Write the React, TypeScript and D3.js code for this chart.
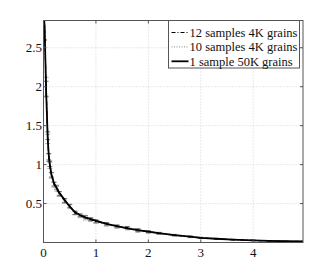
import { useEffect, useRef } from 'react'
import * as d3 from 'd3'

// sample positions (x) and mean curves
const xs = [0.02, 0.05, 0.08, 0.1, 0.12, 0.15, 0.2, 0.25, 0.3, 0.4, 0.5, 0.6, 0.7, 0.8, 0.9, 1.0, 1.2, 1.4, 1.6, 1.8, 2.0, 2.2, 2.5, 2.8, 3.0, 3.3, 3.6, 4.0, 4.3, 4.6, 4.95]
const oneSample = [2.8, 1.95, 1.35, 1.12, 1.0, 0.88, 0.76, 0.7, 0.64, 0.55, 0.46, 0.39, 0.35, 0.32, 0.3, 0.28, 0.24, 0.21, 0.18, 0.16, 0.14, 0.12, 0.095, 0.075, 0.06, 0.048, 0.038, 0.027, 0.02, 0.016, 0.013]
const twelveSamples = [2.85, 1.97, 1.37, 1.1, 1.01, 0.87, 0.75, 0.71, 0.63, 0.54, 0.47, 0.38, 0.35, 0.33, 0.3, 0.27, 0.24, 0.21, 0.19, 0.16, 0.14, 0.12, 0.096, 0.074, 0.06, 0.047, 0.037, 0.027, 0.021, 0.016, 0.013]
const tenSamples = [2.9, 2.0, 1.33, 1.09, 0.99, 0.86, 0.74, 0.69, 0.62, 0.53, 0.46, 0.38, 0.34, 0.31, 0.29, 0.27, 0.23, 0.2, 0.18, 0.15, 0.13, 0.115, 0.09, 0.072, 0.058, 0.046, 0.036, 0.026, 0.02, 0.015, 0.012]
// half-height of the error bars on the sampled series
const errTen = [0.3, 0.12, 0.06, 0.05, 0.04, 0.035, 0.03, 0.03, 0.03, 0.03, 0.025, 0.025, 0.02, 0.02, 0.02, 0.02, 0.02, 0.018, 0.018, 0.02, 0.015, 0.012, 0.01, 0.01, 0.008, 0.006, 0.005, 0.004, 0.003, 0.003, 0.002]
const errTwelve = [0.25, 0.1, 0.05, 0.04, 0.035, 0.03, 0.025, 0.025, 0.025, 0.025, 0.02, 0.02, 0.018, 0.018, 0.018, 0.018, 0.016, 0.016, 0.015, 0.018, 0.012, 0.01, 0.008, 0.008, 0.006, 0.005, 0.004, 0.003, 0.003, 0.002, 0.002]

const xTicks = [0, 1, 2, 3, 4]
const yTicks = [0.5, 1, 1.5, 2, 2.5]
const legendLabels = ['12 samples 4K grains', '10 samples 4K grains', '1 sample 50K grains']

export default function App() {
  const ref = useRef<SVGSVGElement>(null)

  useEffect(() => {
    const width = 334
    const height = 273
    const margin = { top: 20.5, right: 31, bottom: 30.5, left: 43.5 }
    const w = width - margin.left - margin.right
    const h = height - margin.top - margin.bottom
    const svg = d3.select(ref.current)
    svg.selectAll('*').remove()

    const x = d3.scaleLinear().domain([0, 4.95]).range([0, w])
    const y = d3.scaleLinear().domain([0, 2.85]).range([h, 0])
    const font = "'Liberation Serif', 'DejaVu Serif', serif"

    const root = svg.append('g').attr('transform', `translate(${margin.left},${margin.top})`)
    root.append('rect').attr('width', w).attr('height', h).attr('fill', '#fff')

    svg.append('defs').append('clipPath').attr('id', 'plot-clip')
      .append('rect').attr('width', w).attr('height', h)

    // grid
    const grid = root.append('g').attr('stroke', '#c8c8c8').attr('stroke-dasharray', '1,2').attr('stroke-width', 0.8)
    xTicks.filter(t => t > 0).forEach(t => {
      grid.append('line').attr('x1', x(t)).attr('x2', x(t)).attr('y1', 0).attr('y2', h)
    })
    yTicks.forEach(t => {
      grid.append('line').attr('x1', 0).attr('x2', w).attr('y1', y(t)).attr('y2', y(t))
    })

    const plot = root.append('g').attr('clip-path', 'url(#plot-clip)')
    const line = d3.line<number>().x((_, i) => x(xs[i])).y(d => y(d))

    const errorBars = (vals: number[], errs: number[], color: string) => {
      const g = plot.append('g').attr('stroke', color).attr('stroke-width', 0.8)
      vals.forEach((v, i) => {
        const cx = x(xs[i])
        g.append('line').attr('x1', cx).attr('x2', cx).attr('y1', y(v - errs[i])).attr('y2', y(v + errs[i]))
        ;[v - errs[i], v + errs[i]].forEach(e => {
          g.append('line').attr('x1', cx - 2.5).attr('x2', cx + 2.5).attr('y1', y(e)).attr('y2', y(e))
        })
      })
    }
    errorBars(tenSamples, errTen, '#9a9a9a')
    errorBars(twelveSamples, errTwelve, '#555')

    plot.append('path').datum(tenSamples).attr('d', line).attr('fill', 'none')
      .attr('stroke', '#888').attr('stroke-width', 1).attr('stroke-dasharray', '1,1.5')
    plot.append('path').datum(twelveSamples).attr('d', line).attr('fill', 'none')
      .attr('stroke', '#000').attr('stroke-width', 1.2).attr('stroke-dasharray', '4,2,1,2')
    plot.append('path').datum(oneSample).attr('d', line).attr('fill', 'none')
      .attr('stroke', '#000').attr('stroke-width', 1.8)

    // frame and inward ticks
    root.append('rect').attr('width', w).attr('height', h).attr('fill', 'none').attr('stroke', '#555').attr('stroke-width', 1)
    const tk = root.append('g').attr('stroke', '#555').attr('stroke-width', 1)
    xTicks.forEach(t => {
      tk.append('line').attr('x1', x(t)).attr('x2', x(t)).attr('y1', h).attr('y2', h - 3)
      tk.append('line').attr('x1', x(t)).attr('x2', x(t)).attr('y1', 0).attr('y2', 3)
    })
    yTicks.forEach(t => {
      tk.append('line').attr('x1', 0).attr('x2', 3).attr('y1', y(t)).attr('y2', y(t))
      tk.append('line').attr('x1', w).attr('x2', w - 3).attr('y1', y(t)).attr('y2', y(t))
    })

    root.append('g').selectAll('text').data(xTicks).enter().append('text')
      .attr('x', d => x(d)).attr('y', h + 14).attr('text-anchor', 'middle')
      .style('font-family', font).attr('font-size', 13).attr('fill', '#111').text(d => d)
    root.append('g').selectAll('text').data(yTicks).enter().append('text')
      .attr('x', -1.5).attr('y', d => y(d) + 4.5).attr('text-anchor', 'end')
      .style('font-family', font).attr('font-size', 13).attr('fill', '#111').text(d => d)

    // legend
    const lg = root.append('g').attr('transform', `translate(${168.5 - margin.left},0)`)
    lg.append('rect').attr('width', 131).attr('height', 47.5).attr('fill', '#fff').attr('stroke', '#555').attr('stroke-width', 1)
    const styles = [
      { stroke: '#000', dash: '4,2,1,2', sw: 1.2 },
      { stroke: '#888', dash: '1,1.5', sw: 1 },
      { stroke: '#000', dash: null, sw: 1.8 },
    ]
    legendLabels.forEach((label, i) => {
      const cy = 12 + i * 14.4
      lg.append('line').attr('x1', 3).attr('x2', 20).attr('y1', cy).attr('y2', cy)
        .attr('stroke', styles[i].stroke).attr('stroke-width', styles[i].sw)
        .attr('stroke-dasharray', styles[i].dash)
      lg.append('text').attr('x', 21).attr('y', cy + 4.5)
        .style('font-family', font).attr('font-size', 12.5).attr('fill', '#111').text(label)
    })
  }, [])

  return <svg ref={ref} width={334} height={273} style={{ position: 'absolute', left: 0, top: 0, background: '#fff' }} />
}
